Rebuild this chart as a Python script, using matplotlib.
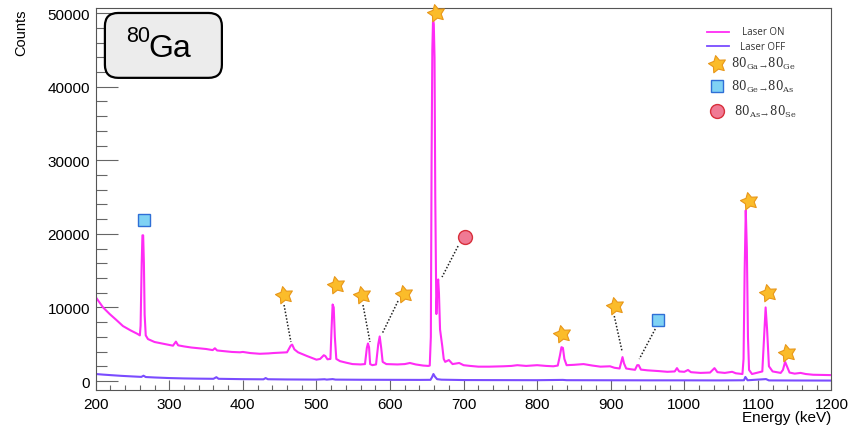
import numpy as np
import matplotlib
matplotlib.use("Agg")
import matplotlib.pyplot as plt
from matplotlib.path import Path
from matplotlib.patches import FancyBboxPatch

plt.rcParams['font.family'] = ['Liberation Sans', 'DejaVu Sans']
plt.rcParams['mathtext.fontset'] = 'dejavuserif'

# Laser ON spectrum (energy keV, counts)
energia_on = [200, 205, 210, 219, 228, 237, 247, 257, 260, 261, 262.5, 263.5, 264.5, 265.5, 266.5, 268,
              271, 280, 290, 300, 305, 309, 312, 320, 330, 340, 350, 359, 362, 365, 375, 385, 396, 400,
              410, 423, 435, 441, 450, 460, 465, 467, 470, 475, 487, 495, 500, 505, 510, 512, 515, 519,
              520.5, 522, 523.5, 525, 527, 532, 540, 549, 560, 566, 568.5, 570, 571.5, 573, 576, 581,
              584, 586, 588, 590, 595, 610, 620, 627, 635, 645, 652, 654, 655.5, 656.5, 657.5, 658.5,
              659.5, 660.5, 661.5, 663, 664.5, 665.5, 666.5, 668, 671, 673, 675, 680, 685, 694, 700,
              709, 720, 735, 754, 765, 773, 785, 800, 812, 822, 828, 831, 833, 835, 837, 840, 850, 863,
              875, 886, 899, 905, 912, 914, 916, 918, 921, 927, 933, 936, 938, 941, 950, 965, 977, 987,
              990, 993, 1000, 1005, 1009, 1022, 1035, 1041, 1045, 1055, 1065, 1070, 1079, 1080.5, 1082,
              1083.5, 1085, 1086.5, 1088, 1092, 1100, 1106, 1108.5, 1110.5, 1112.5, 1115, 1120, 1131,
              1134, 1137, 1139.5, 1143, 1150, 1158, 1165, 1175, 1190, 1200]
cuentas_on = [11400, 10700, 10000, 9100, 8300, 7470, 6900, 6390, 6200, 7500, 16000, 19800, 19800, 16000, 9000, 6200,
              5700, 5300, 5100, 4900, 4800, 5350, 4850, 4700, 4550, 4450, 4350, 4200, 4450, 4150, 4050, 3950, 3900, 3950,
              3800, 3700, 3750, 3800, 3850, 3900, 4800, 4950, 4300, 3900, 3400, 3100, 2900, 3000, 3500, 3400, 2950, 3000,
              7000, 10400, 10000, 6000, 3000, 2700, 2500, 2300, 2250, 2300, 4500, 5100, 4600, 2300, 2150, 2250,
              5000, 6050, 4500, 2600, 2300, 2250, 2300, 2450, 2250, 2100, 2050, 2100, 6000, 30000, 45000, 49200,
              48500, 44000, 25000, 9100, 13000, 13800, 12000, 7000, 4750, 3000, 2600, 2850, 2300, 2450, 2150,
              2050, 1950, 1950, 2000, 2050, 2150, 2050, 2150, 2050, 2000, 2100, 3500, 4600, 4500, 3000, 2150, 2200, 2300,
              2100, 1950, 2000, 1800, 1700, 2500, 3250, 2400, 1700, 1600, 1520, 2150, 2150, 1550, 1450, 1350, 1250, 1300,
              1750, 1300, 1250, 1500, 1200, 1100, 1150, 1750, 1200, 1100, 1250, 1050, 950, 3000, 15000,
              23200, 18000, 6000, 1500, 950, 1150, 1300, 6000, 10000, 7000, 2000, 1300, 1100,
              1500, 2600, 2000, 1150, 1000, 1100, 950, 850, 820, 800]

# Laser OFF spectrum
energia_off = [200, 210, 220, 235, 250, 262, 265, 268, 280, 300, 320, 340, 360, 364, 367, 380, 400, 428, 431,
               434, 460, 500, 511, 514, 522, 526, 560, 600, 640, 655, 657, 659, 661, 664, 670, 700, 750, 800,
               835, 840, 900, 950, 1000, 1050, 1081, 1083, 1086, 1111, 1115, 1150, 1200]
cuentas_off = [950, 870, 800, 700, 620, 560, 720, 540, 480, 400, 350, 320, 300, 520, 300, 280, 250, 230, 400,
               240, 210, 190, 240, 190, 260, 190, 170, 160, 150, 160, 500, 950, 600, 250, 180, 130, 120, 110,
               150, 110, 100, 90, 90, 80, 100, 550, 100, 260, 80, 70, 60]

# marcadores de las transiciones
estrella_E = [456, 526.5, 562, 619, 662.6, 834, 906, 1088.4, 1114.3, 1140]
estrella_C = [11680, 13040, 11680, 11820, 50000, 6390, 10190, 24460, 11960, 3800]
cuadro_E = [265.3, 964.6]
cuadro_C = [21880, 8290]
circulo_E = [702]
circulo_C = [19570]

# lineas punteadas (marcador -> pico)
guias = [
    ([456, 465.3], [10330, 5300]),
    ([563.3, 572.8], [10330, 5300]),
    ([610.9, 589.1], [10870, 6390]),
    ([692.5, 670.7], [18340, 14130]),
    ([904.8, 915.6], [8830, 3940]),
    ([960.5, 938.8], [7070, 2990]),
]

# forma de estrella
ang = np.deg2rad(90 + 12 + np.arange(10) * 36)
rad = np.where(np.arange(10) % 2 == 0, 1.0, 0.52)
verts = np.column_stack([rad * np.cos(ang), rad * np.sin(ang)])
verts = np.vstack([verts, verts[0]])
estrella = Path(verts, [Path.MOVETO] + [Path.LINETO] * 9 + [Path.CLOSEPOLY])

col_on = '#ff2cf5'
col_off = '#7a4cff'
col_est = '#fbbc2a'
col_est_b = '#e8971a'

fig = plt.figure(figsize=(8.5, 4.27), dpi=100)
ax = fig.add_axes([0.1126, 0.0843, 0.8656, 0.8937])

ax.plot(energia_off, cuentas_off, color=col_off, lw=1.5)
ax.plot(energia_on, cuentas_on, color=col_on, lw=1.5)

for xs, ys in guias:
    ax.plot(xs, ys, color='#222222', lw=1.1, ls=(0, (1, 1.2)))

ax.plot(estrella_E, estrella_C, ls='none', marker=estrella, ms=13, mfc=col_est, mec=col_est_b, mew=0.8,
        clip_on=False, zorder=5)
ax.plot(cuadro_E, cuadro_C, ls='none', marker='s', ms=9, mfc='#7fd2f4', mec='#2f6fd6', mew=1.0, zorder=5)
ax.plot(circulo_E, circulo_C, ls='none', marker='o', ms=10, mfc='#f07a94', mec='#d8303c', mew=1.0, zorder=5)

ax.set_xlim(200, 1200)
ax.set_ylim(-1223, 50640)
ax.set_xticks(np.arange(200, 1201, 100))
ax.set_xticks(np.arange(200, 1201, 20), minor=True)
ax.set_yticks(np.arange(0, 50001, 10000))
ax.set_yticks(np.arange(0, 50001, 2000), minor=True)
ax.tick_params(axis='both', which='both', direction='in', colors='#666666', labelcolor='black',
               labelsize=11, width=0.8)
ax.tick_params(axis='y', which='major', length=15.8, pad=4)
ax.tick_params(axis='y', which='minor', length=7.9)
ax.tick_params(axis='x', which='major', length=7.2, pad=5)
ax.tick_params(axis='x', which='minor', length=3.6)
for s in ax.spines.values():
    s.set_color('#555555')
    s.set_linewidth(0.8)

ax.set_ylabel('Counts', fontsize=10.5, loc='top', labelpad=14)
ax.text(1.0, -0.072, 'Energy (keV)', transform=ax.transAxes, fontsize=11, ha='right', va='center')

# cuadro con el nucleo
caja = FancyBboxPatch((0.0125, 0.818), 0.159, 0.170, boxstyle='round,pad=0,rounding_size=0.018',
                      transform=ax.transAxes, fc='#ececec', ec='black', lw=1.6, zorder=6,
                      mutation_aspect=1.9)
ax.add_patch(caja)
ax.text(0.042, 0.930, '80', transform=ax.transAxes, fontsize=15.5, ha='left', va='center', zorder=7)
ax.text(0.0715, 0.895, 'Ga', transform=ax.transAxes, fontsize=23, ha='left', va='center', zorder=7)

# leyenda manual
lx0, lx1, tx = 0.831, 0.861, 0.907
ax.plot([lx0, lx1], [0.938, 0.938], transform=ax.transAxes, color=col_on, lw=1.3)
ax.plot([lx0, lx1], [0.901, 0.901], transform=ax.transAxes, color=col_off, lw=1.3)
ax.plot([0.845], [0.853], transform=ax.transAxes, marker=estrella, ms=13, mfc=col_est, mec=col_est_b, mew=0.8)
ax.plot([0.845], [0.797], transform=ax.transAxes, marker='s', ms=9, mfc='#7fd2f4', mec='#2f6fd6', mew=1.0)
ax.plot([0.845], [0.731], transform=ax.transAxes, marker='o', ms=10, mfc='#f07a94', mec='#d8303c', mew=1.0)
ley = dict(transform=ax.transAxes, ha='center', va='center', color='#333333')
ax.text(tx, 0.940, 'Laser ON', fontsize=7, family=['Open Sans', 'DejaVu Sans'], **ley)
ax.text(tx, 0.901, 'Laser OFF', fontsize=7, family=['Open Sans', 'DejaVu Sans'], **ley)
ax.text(tx, 0.858, r'$80_{\mathrm{Ga}\rightarrow}80_{\mathrm{Ge}}$', fontsize=8.5, **ley)
ax.text(tx, 0.797, r'$80_{\mathrm{Ge}\rightarrow}80_{\mathrm{As}}$', fontsize=8.5, **ley)
ax.text(tx + 0.003, 0.731, r'$80_{\mathrm{As}\rightarrow}80_{\mathrm{Se}}$', fontsize=8.5, **ley)

fig.savefig('out.png', dpi=100)
